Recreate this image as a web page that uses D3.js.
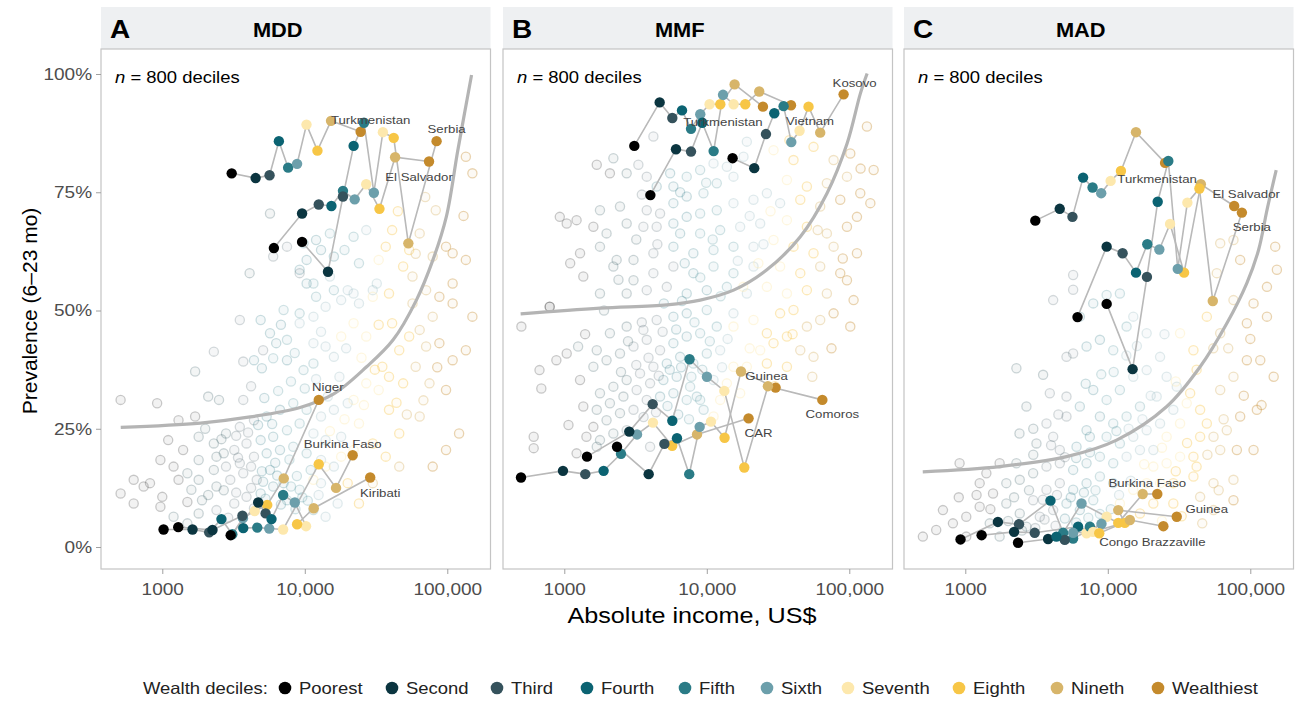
<!DOCTYPE html>
<html><head><meta charset="utf-8">
<script src="https://cdn.jsdelivr.net/npm/d3@7"></script>
<style>
body{margin:0;background:#fff;}
svg text{font-family:"Liberation Sans", Arial, Helvetica, sans-serif;}
</style></head><body>
<svg id="chart" width="1296" height="701"></svg>
<script>
// ---------------- DATA ----------------
const panelCodes = ["MDD","MMF","MAD"];
const panelLetters = ["A","B","C"];
const deciles = ["Poorest","Second","Third","Fourth","Fifth","Sixth","Seventh","Eighth","Nineth","Wealthiest"];
const xTicks = [1000,10000,100000];
const xTickLabels = ["1000","10,000","100,000"];
const yTicks = [0,25,50,75,100];
const yTickLabels = ["0%","25%","50%","75%","100%"];
const nDeciles = 800;

// Highlighted countries (income US$, prevalence %), deciles Poorest..Wealthiest
const mddCountries = ["Turkmenistan","El Salvador","Serbia","Niger","Burkina Faso","Kiribati"];
const mddIncome = [
 [3070,4520,5660,6580,7640,8830,10280,12270,15280,24650],
 [6070,9570,12530,15380,18530,22390,26980,33420,43030,74450],
 [9570,14550,18530,22010,26020,30530,35320,42080,53300,84100],
 [1021,1630,2133,2600,3100,3680,4450,5450,7120,12530],
 [1294,2250,3650,3700,4640,5630,7050,12530,16570,21680],
 [3020,4710,5310,5840,7050,8510,10200,8830,11550,28770]];
const mddPrev = [
 [79.0,78.0,78.6,85.8,80.2,81.0,89.3,83.8,90.1,87.8],
 [63.2,70.5,72.4,72.1,75.3,73.5,76.7,71.5,82.4,81.5],
 [64.5,58.2,74.1,84.8,89.7,74.9,87.7,86.5,64.2,85.8],
 [3.7,3.7,3.1,5.9,2.7,6.1,7.6,8.9,14.5,31.1],
 [4.2,3.6,6.6,4.0,4.1,3.9,3.7,17.5,12.5,19.4],
 [2.5,9.4,7.1,5.9,11.0,9.4,4.4,4.8,8.2,14.7]];

const mmfCountries = ["Turkmenistan","Vietnam","Kosovo","CAR","Guinea","Comoros"];
const mmfIncome = [
 [3100,4670,5730,6700,7750,9000,10460,12440,15670,24780],
 [4020,6080,7750,9290,11170,13000,15420,18620,23340,38990],
 [15170,21530,26020,29770,34600,39170,44770,51760,62500,91200],
 [497,979,1404,1888,2500,3240,4190,5720,8540,19640],
 [2345,3910,5040,6180,7530,8910,10700,13330,17380,30400],
 [1443,2858,4170,5730,7570,10020,13280,18330,26850,64700]];
const mmfPrev = [
 [84.8,94.0,90.7,92.3,88.4,91.5,93.6,93.6,97.8,93.1],
 [74.4,84.1,83.6,89.7,83.7,95.6,93.6,93.6,96.3,93.4],
 [82.2,80.1,87.3,91.7,93.2,85.6,88.0,93.1,87.6,95.7],
 [14.7,16.1,15.4,16.1,19.7,23.8,26.3,21.4,23.8,27.2],
 [21.2,15.4,21.8,23.0,15.4,25.4,26.5,23.1,37.1,33.7],
 [19.1,24.4,30.2,26.7,39.7,36.0,33.0,16.8,34.0,31.1]];

const madCountries = ["Turkmenistan","El Salvador","Serbia","Burkina Faso","Guinea","Congo Brazzaville"];
const madIncome = [
 [3100,4600,5650,6710,7820,8990,10470,12370,15770,25230],
 [6130,9820,12700,15770,18930,23000,27360,34300,44980,77090],
 [9820,14930,18830,22400,26600,30970,36180,43940,54550,87300],
 [926,1694,2383,3960,4860,6540,9820,11840,17580,22250],
 [1302,2200,3070,6190,5710,9030,7100,13180,11840,30470],
 [2345,3810,4990,4360,7490,5710,7890,8710,14290,24550]];
const madPrev = [
 [69.0,71.5,69.8,78.1,76.0,74.8,77.4,79.5,87.7,81.2],
 [48.6,63.5,62.1,58.0,64.0,62.9,68.3,58.0,76.7,72.1],
 [51.4,37.6,57.1,73.0,81.6,58.8,72.8,75.8,52.0,70.7],
 [1.6,5.3,4.8,9.8,3.0,9.2,6.4,5.1,11.2,11.2],
 [2.5,3.2,3.0,4.3,1.8,4.9,2.9,5.1,7.8,6.4],
 [0.9,1.7,1.5,2.2,4.3,3.0,3.2,2.9,5.7,4.4]];

// Fitted curves [income, prevalence]
const curveMDD = [[511,25.3],[1854,26.2],[4140,27.5],[9270,29.5],[15850,32.3],[27160,38.1],[41700,43.8],[60700,52.2],[79300,60.7],[98400,69.8],[118600,83.9],[148000,99.8]];
const curveMMF = [[494,49.3],[1781,50.5],[5250,51.2],[9000,52.2],[15420,54.3],[26400,58.6],[45300,65.6],[69800,74.8],[96500,85.3],[119700,95.9],[133400,100.1]];
const curveMAD = [[503,15.9],[1742,17.0],[5130,19.1],[11530,22.6],[25940,29.7],[44460,38.1],[68500,47.3],[94600,55.8],[114300,62.8],[131500,71.5],[152000,79.7]];

// Background deciles (sample) [income, prevalence, decile 1-10]
const bgMDD = [
[510,31.1,1],[920,30.4,1],[2100,31.8,2],[2500,31.1,2],[3700,31.1,3],[1700,37.1,2],[2300,41.3,3],[3700,39.2,3],[4400,39.5,4],[5000,37.8,4],[6000,39.9,5],[7500,43.8,5],[9200,47.3,6],[11500,43.1,6],[14000,42.4,6],[16000,40.2,6],[11500,38.8,5],[9800,37.4,5],[7500,39.5,4],[6300,43.1,4],[5100,41.6,3],[3500,48.0,3],[4900,48.0,4],[5700,45.2,4],[7100,50.1,5],[9200,49.4,5],[11500,48.7,6],[14000,50.8,6],[18000,52.2,6],[22000,53.6,6],[16000,54.3,5],[12000,52.9,5],[10300,55.7,4],[9200,58.6,4],[11500,55.7,5],[15000,57.2,6],[20000,54.3,6],[24000,51.5,6],[30000,54.3,6],[32000,55.7,6],[24000,60.0,5],[19000,62.8,5],[16000,61.4,4],[13000,62.8,4],[10300,60.7,4],[9200,57.9,3],[7500,63.5,3],[6000,61.4,3],[5700,70.5,2],[4100,57.9,2],[27000,67.0,6],[22000,65.6,5],[15000,66.3,5],[12000,64.9,4],[9800,64.2,4],
[1300,26.8,1],[1700,27.6,1],[1800,23.3,2],[2300,21.9,2],[2800,24.0,2],[3500,25.4,3],[4400,26.8,3],[5400,27.6,4],[6700,29.0,4],[8300,30.4,5],[10300,29.0,5],[13000,27.6,6],[16000,29.0,6],[20000,30.4,6],[1100,22.6,1],[1400,20.5,1],[1800,18.4,2],[2400,19.1,2],[3200,20.5,3],[3900,21.9,3],[4900,22.6,4],[6000,23.3,4],[7500,24.7,5],[9200,26.1,5],[11500,24.0,6],[14000,22.6,6],[18000,23.3,6],[970,18.4,1],[1200,17.0,1],[1500,15.6,2],[1800,14.2,2],[2300,16.3,2],[2800,17.0,3],[3500,17.7,3],[4400,19.1,3],[5400,19.8,4],[6700,20.5,4],[8300,21.2,5],[10300,19.8,5],[13000,18.4,6],[16000,17.0,6],[630,14.2,1],[740,12.8,1],[510,11.3,1],[630,9.2,1],[820,13.5,1],[1000,10.6,1],[1300,14.2,1],[1600,12.1,2],[1900,9.9,2],[2400,12.8,2],[3000,14.2,3],[3700,15.6,3],[4600,14.2,3],[5700,16.3,4],[7100,13.5,4],[8800,15.0,5],[11000,16.3,5],[13000,13.5,6],[17000,9.2,6],[970,8.5,1],[1200,6.4,2],[1500,5.0,2],[1800,7.1,2],[2400,7.8,3],[3200,9.2,3],[3900,10.6,3],[4900,11.3,4],[6000,12.8,4],[7500,9.9,5],[9200,12.1,5],[11500,7.8,5],[14000,6.4,6],
[2000,25.0,2],[2600,22.8,2],[3300,23.5,3],[4000,24.2,3],[4700,25.8,4],[5900,26.0,4],[2700,19.8,2],[3400,18.9,3],[4200,17.0,3],[5000,16.0,4],[6200,17.8,4],[7800,18.5,5],[2100,11.0,2],[2700,12.0,2],[3300,11.5,3],[4200,12.5,3],[5100,13.8,4],[6400,15.1,4],[8000,12.8,5],[9600,10.5,5],[1500,9.5,1],[2900,6.2,3],[4400,8.2,3],[5300,10.2,4],[6800,9.0,4],[8600,8.0,5],[10500,9.8,5],[12500,11.0,6],[6500,33.0,5],[8000,35.0,5],[10000,33.5,5],[12000,35.5,6],[14500,31.8,6],[5200,31.5,4],[4200,34.0,3],[17500,36.0,6],[19500,42.0,6],[13000,45.5,6],[8500,41.0,5],[6800,47.0,4],
[135000,82.5,10],[150000,79.0,10],[83000,71.2,9],[98000,63.5,10],[109000,62.1,10],[79000,61.4,9],[64000,66.3,9],[54000,62.8,8],[41000,67.0,8],[37000,63.5,8],[33000,60.7,7],[30000,52.9,7],[39000,53.6,8],[49000,59.3,8],[57000,57.2,9],[71000,54.3,9],[88000,52.9,10],[109000,51.5,10],[79000,48.7,9],[64000,45.9,9],[54000,44.5,8],[71000,42.4,9],[88000,43.1,10],[109000,39.5,10],[98000,33.2,10],[64000,27.6,9],[46000,24.0,8],[39000,29.0,8],[33000,33.2,7],[27000,34.6,7],[22000,31.1,7],[24000,26.1,7],[30000,21.9,8],[37000,19.1,8],[46000,17.0,9],[79000,17.0,10],[22000,20.5,7],[18000,19.1,7],[14000,17.0,7],[11500,14.2,7],[20000,13.5,8],[24000,9.2,8],[30000,13.5,9],[46000,41.6,8],[35000,38.1,8],[27000,44.5,7],[22000,47.3,7],[18000,44.5,7],[41000,47.3,8],[57000,51.5,9],[135000,60.7,10],[109000,55.7,10],[75000,34.6,9],[60000,38.1,9],[49000,34.6,8],[39000,36.0,8],[98000,20.5,10],[121000,24.0,10],[135000,41.6,10],[150000,48.7,10],
[15000,24.5,7],[19000,27.0,7],[26000,30.0,7],[31000,37.5,8],[44000,30.5,8],[52000,28.0,9],[68000,31.0,9],[85000,38.0,10],[25000,40.0,7],[33000,47.0,8],[60000,62.0,9],[45000,71.0,8],[70000,74.0,9],[130000,70.0,10]];

const bgMMF = [
[4220,86.8,3],[1690,80.8,1],[2210,82.2,2],[2090,79.0,1],[2740,79.0,2],[3310,80.8,3],[3790,78.3,3],[4450,76.2,4],[5530,79.0,4],[5830,76.2,4],[7230,78.3,5],[8980,79.7,5],[11150,81.1,6],[13830,80.4,6],[18100,82.5,6],[19100,85.7,6],[15390,78.3,6],[11750,76.9,5],[9480,74.8,5],[7230,74.1,4],[5830,72.7,4],[4700,70.5,3],[3790,71.2,3],[2460,72.0,2],[1780,71.2,2],[1220,69.1,1],[930,69.8,1],[1040,68.4,1],[1600,67.7,1],[1980,66.3,2],[2740,68.4,2],[3590,67.7,3],[4450,67.7,3],[5830,68.4,4],[7230,69.8,4],[8980,70.5,5],[11750,71.2,5],[15390,72.7,6],[21270,73.4,6],[26400,74.8,6],[32700,72.7,6],[6500,66.3,4],[8980,66.3,5],[12410,67.0,5],[17140,67.7,6],[23700,68.4,6],[1290,62.1,1],[1780,63.5,2],[2330,60.7,2],[3060,60.7,2],[4220,62.1,3],[5830,63.5,4],[8050,62.1,4],[11150,62.8,5],[15390,63.5,5],[21270,63.5,6],[1360,57.2,1],[2210,59.3,2],[3060,56.4,2],[4220,57.9,3],[5830,59.3,3],[8050,57.9,4],[11150,59.3,5],[15390,57.9,5],[21270,59.3,6],[790,50.8,1],[1780,53.6,2],[2740,53.6,2],[3790,54.3,3],[5240,55.0,3],[7230,53.6,4],[10000,54.3,4],[13830,55.0,5],[19100,53.6,6],
[29400,83.9,7],[40600,81.8,8],[56100,84.6,8],[77600,81.8,9],[101600,83.2,10],[133000,88.9,10],[148200,79.7,10],[96300,78.3,9],[69600,76.9,9],[50400,76.2,8],[36500,77.6,7],[45300,73.4,8],[62500,72.0,9],[86400,73.4,10],[119400,74.8,10],[140500,72.7,10],[36500,69.1,7],[50400,67.7,8],[69600,66.3,9],[96300,67.7,10],[113200,69.8,10],[29400,64.9,7],[40600,63.5,8],[56100,62.1,8],[77600,63.5,9],[113200,62.1,10],[32700,59.3,7],[45300,57.9,8],[62500,59.3,9],[86400,57.9,10],[26400,55.0,7],[36500,53.6,7],[50400,54.3,8],[69600,53.6,9],[96300,56.4,10],[107200,52.2,10],
[500,46.6,1],[790,50.8,1],[670,37.4,1],[610,23.3,1],[610,20.9,1],[690,33.5,1],[880,39.5,1],[1040,40.9,1],[1250,42.4,2],[1070,25.8,1],[1690,41.6,2],[2090,45.2,2],[2740,46.6,2],[3590,45.9,3],[4450,48.0,3],[5830,48.7,4],[7230,49.4,4],[10000,50.1,5],[15390,49.4,6],[1290,35.3,1],[1600,38.1,2],[1980,39.5,2],[2460,40.9,2],[3060,42.4,3],[3790,43.8,3],[4700,41.6,3],[5830,43.1,4],[7230,44.5,4],[8980,45.2,5],[11750,46.6,5],[1780,32.5,2],[2210,33.9,2],[2740,35.3,2],[3400,36.7,3],[4220,38.1,3],[5240,38.8,4],[6500,40.2,4],[8050,38.8,5],[10000,40.9,5],[12410,41.6,6],[1360,29.7,1],[1690,29.0,2],[2090,30.4,2],[2600,31.8,2],[3220,33.2,3],[4000,34.6,3],[4960,35.3,4],[6150,36.0,4],[7640,33.9,5],[8980,31.1,5],[11150,35.3,6],[1600,25.4,1],[1980,26.8,2],[2460,28.3,2],[3060,29.0,3],[3790,31.1,3],[4700,31.8,4],[5830,32.5,4],[7230,31.1,5],[1430,23.3,1],[1780,22.6,2],[2210,24.0,2],[2740,24.7,3],[1220,19.8,1],[1690,21.2,2],[4000,21.2,3],[8510,31.8,5],
[2500,37.0,2],[3200,38.5,3],[3900,40.0,3],[4600,36.2,3],[5500,37.5,4],[6600,38.0,4],[7800,36.0,5],[9300,37.5,5],[3600,27.5,3],[4400,28.5,3],[5300,29.8,4],[6300,28.0,4],[7500,27.0,5],[9500,29.0,5],[2800,43.5,2],[3500,47.5,3],[4900,45.5,3],[6100,46.0,4],[8200,47.5,5],[10500,43.5,5],[12800,38.0,6],[14000,44.0,6],[5000,51.5,4],[6700,52.0,4],[9000,57.0,5],[12500,53.0,5],[16500,60.5,6],[4500,64.0,3],[3500,74.5,3],[6500,75.0,4],[9900,77.0,5],[2400,56.5,2],[1900,50.0,2],[1400,45.0,1],[20000,70.0,6],[25000,64.0,6],[1100,60.0,1],[3200,65.0,2],[7000,60.0,4],[11000,65.0,5],
[15390,46.6,7],[21270,48.0,7],[26400,45.2,8],[32700,49.4,8],[40600,50.1,8],[50400,46.6,9],[62500,48.0,9],[77600,49.4,10],[101600,46.6,10],[23700,41.6,7],[29400,43.1,8],[36500,44.5,8],[45300,41.6,9],[56100,40.2,9],[19100,38.1,7],[26400,38.8,8],[36500,38.1,8],[13830,34.6,7],[17140,32.5,7],[12410,31.1,7],[11150,27.6,7],[15390,38.1,7],
[20000,42.0,7],[30000,34.0,8],[40000,45.0,8],[55000,36.0,9],[75000,42.0,10],[18000,55.0,7],[23000,60.0,7],[60000,67.0,9],[90000,61.0,10],[28000,71.0,7],[38000,86.0,8],[120000,80.0,10]];

const bgMAD = [
[5713,57.5,3],[5713,54.4,3],[4137,52.2,3],[6366,48.7,4],[7906,51.5,4],[9810,53.3,5],[12160,53.6,5],[15100,48.7,6],[18740,45.2,6],[13550,46.6,5],[10920,41.6,5],[8805,43.8,4],[7096,42.4,4],[5130,40.2,3],[5713,40.9,3],[2284,37.8,2],[3517,36.4,2],[3919,32.5,3],[2686,29.7,2],[5130,31.8,3],[6366,29.7,4],[7906,33.2,4],[9810,31.1,5],[12160,33.2,5],[15100,36.0,6],[18740,37.4,6],[23270,40.2,6],[25880,36.0,6],[30470,33.9,6],[22040,31.8,6],[16820,29.7,5],[13550,27.6,5],[10920,26.1,5],[8805,27.6,4],[7096,24.7,4],[5130,27.6,3],[4137,23.3,3],[3158,21.9,2],[3713,26.1,3],[4606,20.5,3],[6035,21.2,4],[7482,23.3,4],[9810,23.3,5],[12160,21.9,5],[15100,23.3,6],[18740,24.7,6],[23270,26.1,6],[28840,29.0,6],[2284,17.7,2],[1742,17.7,1],[1406,15.6,1],[912,17.7,1],[1262,13.5,1],[1566,11.3,1],[1941,13.5,2],[2411,14.2,2],[2993,15.6,2],[3713,17.0,3],[4606,17.7,3],[5713,16.3,4],[7096,17.7,4],[8805,19.1,5],[10920,17.7,5],[13550,19.1,6],[16820,20.5,6],[20880,20.5,6],[697,7.8,1],[625,3.6,1],[504,2.2,1],[819,5.0,1],[1016,6.4,1],[1262,8.5,1],[1484,5.0,2],[1941,9.2,2],[2411,7.1,2],[2993,9.9,3],[3713,12.1,3],[4606,13.5,3],[5713,12.1,4],[7096,13.5,4],[8805,14.9,5],[10920,13.5,5],[2686,4.3,2],[3334,6.4,3],[4137,7.8,3],[5130,9.2,4],[6366,7.8,4],[7906,9.9,5],[1016,2.2,1],[1742,2.2,2],
[2000,5.5,2],[2500,3.5,2],[3100,4.0,3],[3600,5.8,3],[4300,4.5,3],[5000,6.0,4],[6000,5.2,4],[7300,6.2,5],[8800,7.0,5],[10500,8.0,5],[2200,10.5,2],[2800,12.0,2],[3500,10.0,3],[4400,11.0,3],[5500,10.5,4],[6800,11.5,4],[8200,12.0,5],[12000,11.0,6],[14500,14.0,6],[3000,19.5,2],[4000,21.5,3],[5000,19.0,3],[6000,18.8,4],[7500,20.0,4],[11500,24.5,5],[14000,25.0,6],[17500,27.0,6],[20000,32.0,6],[11000,37.0,5],[13500,40.5,6],[16000,42.5,6],[9000,36.5,5],[7000,34.5,4],[4500,28.0,3],[3000,25.0,2],[1200,11.0,1],[1500,8.0,1],[900,10.5,1],[2400,24.0,2],[25000,45.0,6],
[61500,33.2,9],[76200,36.0,9],[94600,39.5,10],[117500,39.5,10],[145900,36.0,10],[111200,29.0,10],[84900,27.6,10],[68400,24.7,9],[55200,23.3,9],[44460,29.0,8],[37840,32.5,8],[32150,26.1,7],[44460,23.3,8],[61500,20.5,9],[80500,20.5,10],[105400,20.5,10],[39900,19.1,8],[32150,19.1,7],[25880,17.7,7],[20880,17.0,7],[28840,13.5,8],[39900,14.9,8],[55200,13.5,9],[76200,14.2,9],[35800,30.4,7],[49550,26.1,8],[25880,23.3,7],[76200,52.2,9],[94600,47.3,10],[61500,45.2,9],[49550,48.7,8],[39900,41.6,8],[32150,45.2,7],[130900,48.7,10],[153700,58.6,10],[130900,55.0,10],[58210,57.9,9],[105400,51.5,10],[23270,13.5,7],[18740,13.5,7],[15100,12.1,7],[12160,9.2,7],[16820,7.1,8],[20880,9.2,8],[28840,9.2,8],[44460,10.6,9],[55200,7.8,9],[76200,9.9,10],[76200,64.9,9],[149600,63.5,10],[61500,64.2,9],[84900,60.7,10],
[18000,17.5,7],[24000,21.0,7],[30000,16.0,8],[36000,22.0,8],[42000,17.0,8],[50000,19.5,9],[65000,27.0,9],[90000,32.0,10],[30000,35.0,7],[42000,37.5,8],[55000,42.0,9],[70000,42.0,9],[100000,44.0,10],[24000,5.5,7],[33000,6.5,8],[46000,5.0,9],[60000,12.0,9],[120000,30.0,10]];

// ---------------- STYLE / LAYOUT ----------------
const decileColors = ["#000000","#0b3540","#35525c","#0b6372","#2a7b86","#6c9fab","#fde8ad","#f7c646","#d7b56a","#c48a2c"];
const SX = 1.12; // horizontal text stretch of the original figure
const panelLeft = [101, 503, 904];
const panelW = 389.5;
const plotTop = 49, plotBottom = 569, stripTop = 7;
const labelOffsets = [
 [[10,-8],[-10,19],[10,-8],[9,-9],[-10,-7],[10,20]],
 [[-40,19],[19,20],[11,-7],[10,19],[-9,-8],[10,18]],
 [[-8,20],[12,-8],[10,18],[-10,-7],[30,-4],[-11,20]]];
const legendX = [285,392,497,587,685,767,848,959,1057,1158];

const panelsHL = [
 {countries:mddCountries, income:mddIncome, prev:mddPrev, curve:curveMDD, bg:bgMDD},
 {countries:mmfCountries, income:mmfIncome, prev:mmfPrev, curve:curveMMF, bg:bgMMF},
 {countries:madCountries, income:madIncome, prev:madPrev, curve:curveMAD, bg:bgMAD}];

const svg = d3.select("#chart");
const y = d3.scaleLinear().domain([0,100]).range([547,74]);

function txt(g, x, yy, str, o={}) {
  const t = g.append("text")
    .attr("transform", `translate(${x},${yy}) scale(${SX},1)`)
    .attr("text-anchor", o.anchor || "start")
    .attr("font-size", o.size || 14)
    .attr("font-weight", o.weight || "normal")
    .attr("fill", o.fill || "#000");
  if (str !== null) t.text(str);
  return t;
}

const defs = svg.append("defs");

panelsHL.forEach((P, pi) => {
  const L = panelLeft[pi];
  const x = d3.scaleLog().domain([371.5, 201000]).range([L, L + panelW]);
  const g = svg.append("g");

  // strip
  g.append("rect").attr("x", L).attr("y", stripTop).attr("width", panelW).attr("height", plotTop - stripTop)
    .attr("fill", "#eef0f2");
  txt(g, L + 9, 38, panelLetters[pi], {size: 25, weight: "bold"});
  txt(g, L + panelW/2 - 18, 37, panelCodes[pi], {size: 19.5, weight: "bold", anchor: "middle"});

  // panel
  g.append("rect").attr("x", L).attr("y", plotTop).attr("width", panelW).attr("height", plotBottom - plotTop)
    .attr("fill", "#fff");
  defs.append("clipPath").attr("id", "clip" + pi).append("rect")
    .attr("x", L).attr("y", plotTop).attr("width", panelW).attr("height", plotBottom - plotTop);
  const pg = g.append("g").attr("clip-path", `url(#clip${pi})`);

  // background deciles
  pg.append("g").selectAll("circle").data(P.bg).join("circle")
    .attr("cx", d => x(d[0])).attr("cy", d => y(d[1])).attr("r", 4.6)
    .attr("fill", d => decileColors[d[2]-1]).attr("fill-opacity", 0.05)
    .attr("stroke", d => decileColors[d[2]-1]).attr("stroke-opacity", d => d[2] >= 7 ? 0.36 : 0.2)
    .attr("stroke-width", 1.3);

  // fitted curve
  pg.append("path").datum(P.curve)
    .attr("d", d3.line().x(d => x(d[0])).y(d => y(d[1])).curve(d3.curveCatmullRom))
    .attr("fill", "none").attr("stroke", "#b4b4b4").attr("stroke-width", 3.2);

  // highlighted countries
  P.countries.forEach((c, ci) => {
    const pts = P.income[ci].map((v, k) => [v, P.prev[ci][k], k]);
    pg.append("path").datum(pts)
      .attr("d", d3.line().x(d => x(d[0])).y(d => y(d[1])))
      .attr("fill", "none").attr("stroke", "#b9b9b9").attr("stroke-width", 1.6);
  });
  P.countries.forEach((c, ci) => {
    const pts = P.income[ci].map((v, k) => [v, P.prev[ci][k], k]);
    pg.append("g").selectAll("circle").data(pts).join("circle")
      .attr("cx", d => x(d[0])).attr("cy", d => y(d[1])).attr("r", 5.2)
      .attr("fill", d => decileColors[d[2]]);
  });
  P.countries.forEach((c, ci) => {
    const wx = x(P.income[ci][9]), wy = y(P.prev[ci][9]);
    const off = labelOffsets[pi][ci];
    txt(g, wx + off[0], wy + off[1], c, {size: 11.8, anchor: "middle", fill: "#444"});
  });

  // border
  g.append("rect").attr("x", L).attr("y", plotTop).attr("width", panelW).attr("height", plotBottom - plotTop)
    .attr("fill", "none").attr("stroke", "#c4c4c4").attr("stroke-width", 1.2);

  // n label
  const nt = txt(g, L + 14, 83, null, {size: 16.5});
  nt.append("tspan").attr("font-style", "italic").text("n");
  nt.append("tspan").text(" = " + nDeciles + " deciles");

  // x axis
  const xa = g.append("g").attr("transform", `translate(0,${plotBottom})`)
    .call(d3.axisBottom(x).tickValues(xTicks).tickFormat((d, i) => xTickLabels[i]).tickSize(5).tickPadding(9));
  xa.select(".domain").remove();
  xa.selectAll("line").attr("stroke", "#a0a0a0");
  xa.selectAll("text").attr("font-size", 17).attr("fill", "#4d4d4d")
    .attr("font-family", "Liberation Sans, Arial, sans-serif")
    .attr("transform", `scale(${SX},1)`);

  if (pi === 0) {
    const ya = g.append("g").attr("transform", `translate(${L},0)`)
      .call(d3.axisLeft(y).tickValues(yTicks).tickFormat((d, i) => yTickLabels[i]).tickSize(5).tickPadding(3));
    ya.select(".domain").remove();
    ya.selectAll("line").attr("stroke", "#a0a0a0");
    ya.selectAll("text").attr("font-size", 17).attr("fill", "#4d4d4d")
      .attr("font-family", "Liberation Sans, Arial, sans-serif")
      .attr("transform", `scale(${SX},1)`);
  }
});

// axis titles
txt(svg, 692, 623, "Absolute income, US$", {size: 22.5, anchor: "middle"});
svg.append("text").attr("transform", "translate(37,311) rotate(-90)")
  .attr("text-anchor", "middle").attr("font-size", 21).text("Prevalence (6\u201323 mo)");

// legend
const lg = svg.append("g");
txt(lg, 143, 694, "Wealth deciles:", {size: 16.5, fill: "#222"});
deciles.forEach((d, i) => {
  lg.append("circle").attr("cx", legendX[i]).attr("cy", 688).attr("r", 6.3).attr("fill", decileColors[i]);
  txt(lg, legendX[i] + 14, 694, d, {size: 16.5, fill: "#222"});
});
</script>
</body></html>
